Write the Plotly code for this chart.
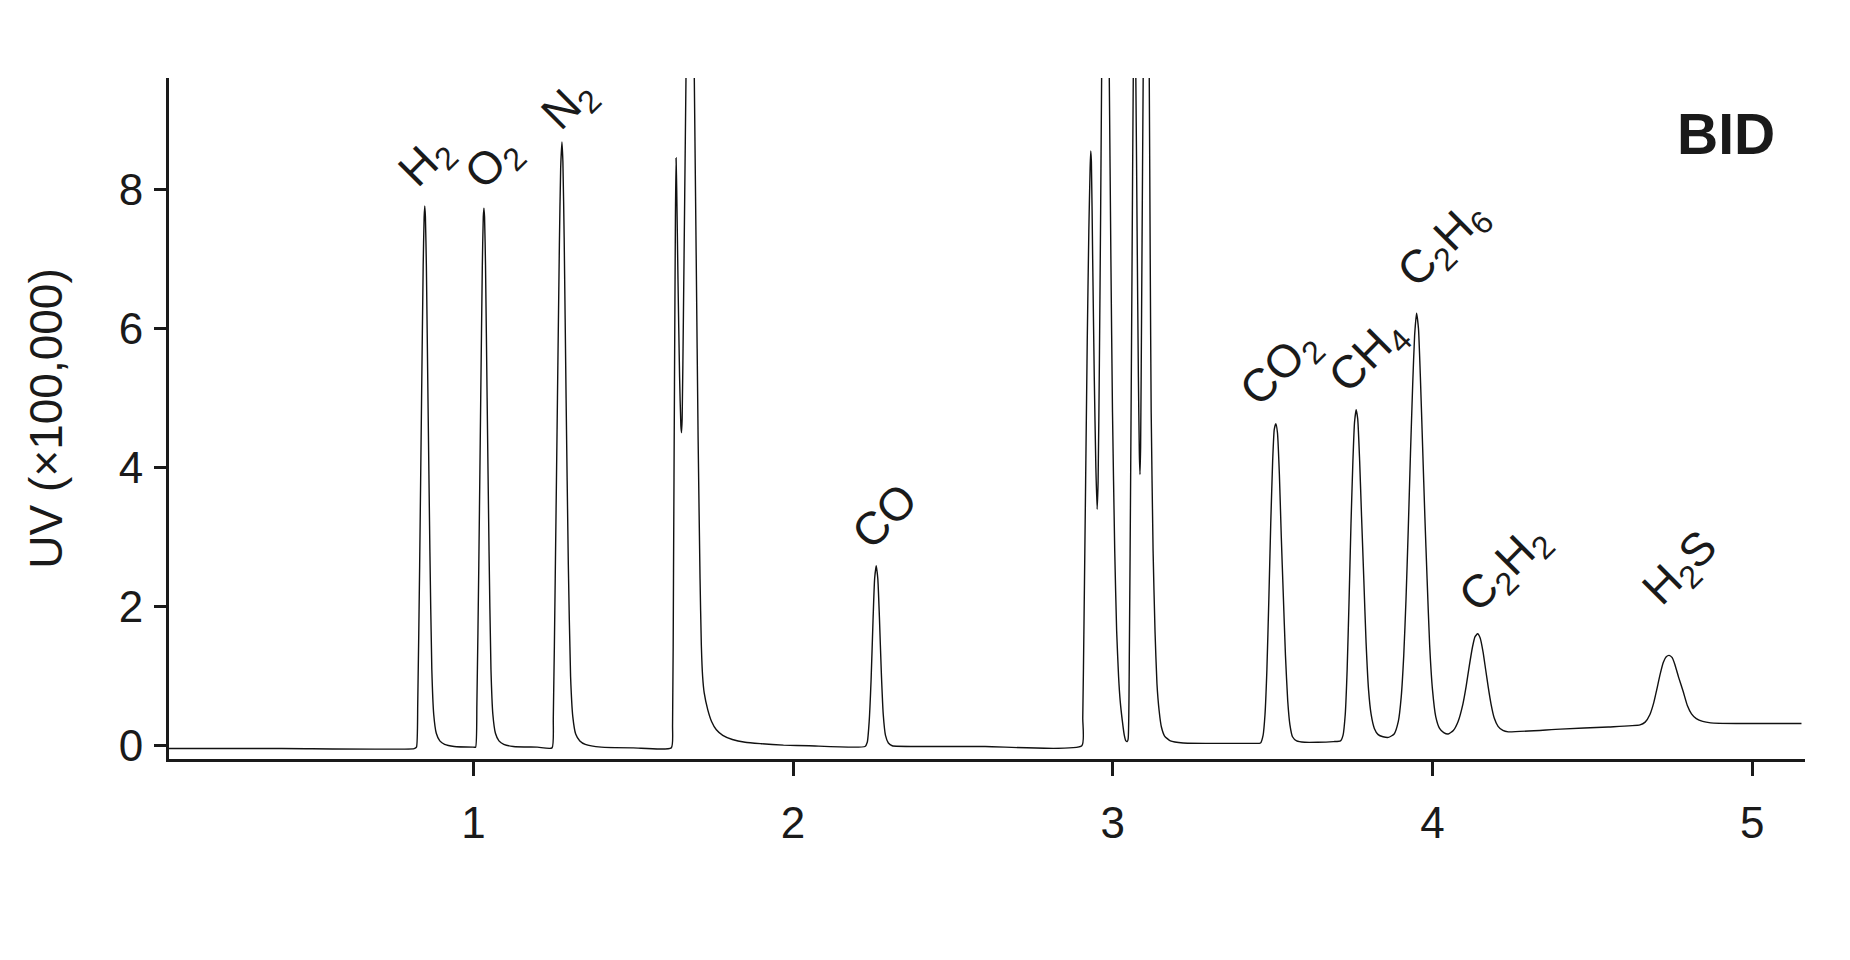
import plotly.graph_objects as go

# ---- chromatogram (time in min, response in x100,000 uV) ----
t_early = [0.048, 0.40, 0.815, 0.822, 0.826, 0.832, 0.838, 0.843, 0.846, 0.848, 0.850, 0.853, 0.858, 0.864, 0.870, 0.876, 0.884, 0.895, 0.910, 0.940, 1.000,
           1.007, 1.011, 1.017, 1.023, 1.028, 1.031, 1.033, 1.035, 1.038, 1.043, 1.049, 1.055, 1.061, 1.069, 1.080, 1.095, 1.125, 1.200, 1.246,
           1.250, 1.256, 1.263, 1.269, 1.273, 1.277, 1.280, 1.284, 1.290, 1.297, 1.304, 1.311, 1.320, 1.333, 1.350, 1.400, 1.500, 1.619]
v_early = [-0.04, -0.04, -0.04, -0.02, 0.6, 2.6, 5.0, 6.9, 7.6, 7.76, 7.6, 6.9, 5.0, 2.8, 1.1, 0.45, 0.18, 0.07, 0.02, -0.01, -0.02,
           -0.02, 0.6, 2.6, 5.0, 6.9, 7.6, 7.73, 7.6, 6.9, 5.0, 2.8, 1.1, 0.45, 0.18, 0.07, 0.02, -0.01, -0.02, -0.03,
           0.4, 2.4, 5.0, 7.2, 8.3, 8.68, 8.4, 7.3, 5.0, 2.6, 1.0, 0.42, 0.17, 0.07, 0.02, -0.02, -0.03, -0.03]

t_mid = [1.623, 1.626, 1.629, 1.632, 1.634, 1.636, 1.640, 1.645, 1.649, 1.651, 1.653, 1.657, 1.661, 1.665, 1.670, 1.678, 1.686, 1.691, 1.697, 1.703,
         1.709, 1.713, 1.717, 1.722, 1.733, 1.745, 1.760, 1.780, 1.810, 1.850, 1.900, 1.970, 2.050, 2.225,
         2.232, 2.238, 2.244, 2.250, 2.255, 2.260, 2.265, 2.270, 2.276, 2.282, 2.289, 2.298, 2.310, 2.400, 2.600, 2.903]
v_mid = [0.3, 2.5, 5.2, 7.6, 8.45, 8.0, 6.7, 5.3, 4.6, 4.5, 4.7, 6.2, 7.9, 9.6, 12.0, 13.5, 12.0, 9.6, 7.0, 4.4,
         2.4, 1.45, 1.0, 0.76, 0.52, 0.35, 0.23, 0.15, 0.09, 0.05, 0.03, 0.01, 0.0, -0.01,
         0.05, 0.35, 0.95, 1.8, 2.4, 2.59, 2.4, 1.85, 1.05, 0.45, 0.15, 0.04, 0.0, -0.01, -0.01, 0.0]

t_cluster = [2.906, 2.910, 2.915, 2.920, 2.925, 2.929, 2.931, 2.933, 2.937, 2.942, 2.947, 2.951, 2.954, 2.958, 2.962, 2.965, 2.970, 2.977, 2.984, 2.989,
             2.994, 2.999, 3.006, 3.012, 3.018, 3.023, 3.030, 3.036, 3.041, 3.045,
             3.048, 3.052, 3.056, 3.060, 3.064, 3.068, 3.072, 3.076, 3.080, 3.083, 3.085, 3.087, 3.090, 3.093, 3.095, 3.100, 3.105, 3.110, 3.114, 3.117,
             3.120, 3.126, 3.132, 3.138, 3.145, 3.152, 3.162, 3.180, 3.220, 3.300, 3.440]
v_cluster = [0.4, 1.8, 3.8, 5.8, 7.4, 8.3, 8.55, 8.4, 7.0, 5.3, 4.0, 3.4, 3.8, 5.5, 7.7, 9.6, 12.0, 14.0, 12.0, 9.6,
             7.0, 4.8, 2.8, 1.65, 1.0, 0.65, 0.35, 0.15, 0.07, 0.06,
             0.1, 1.5, 4.0, 6.8, 9.6, 10.8, 9.6, 7.4, 5.3, 4.2, 3.9, 4.3, 6.2, 8.3, 9.6, 12.0, 13.0, 12.0, 9.6, 7.0,
             4.8, 2.8, 1.65, 0.9, 0.5, 0.27, 0.14, 0.07, 0.04, 0.035, 0.035]

t_hydro = [3.462, 3.470, 3.476, 3.482, 3.488, 3.494, 3.500, 3.505, 3.510, 3.515, 3.521, 3.527, 3.533, 3.540, 3.547, 3.554, 3.562, 3.575, 3.600, 3.640, 3.690,
           3.712, 3.720, 3.727, 3.733, 3.739, 3.745, 3.751, 3.756, 3.761, 3.766, 3.772, 3.778, 3.785, 3.792, 3.800, 3.808, 3.818, 3.830, 3.845, 3.862,
           3.880, 3.893, 3.902, 3.910, 3.917, 3.924, 3.931, 3.938, 3.944, 3.950, 3.956, 3.962, 3.969, 3.976, 3.983, 3.991, 4.000, 4.010, 4.022, 4.035, 4.049]
v_hydro = [0.04, 0.15, 0.45, 1.1, 2.1, 3.2, 4.1, 4.55, 4.63, 4.5, 3.9, 3.0, 2.2, 1.3, 0.65, 0.3, 0.13, 0.07, 0.05, 0.05, 0.06,
           0.07, 0.15, 0.45, 1.1, 2.1, 3.2, 4.1, 4.65, 4.83, 4.7, 4.1, 3.3, 2.4, 1.5, 0.8, 0.45, 0.25, 0.16, 0.13, 0.12,
           0.17, 0.35, 0.7, 1.3, 2.1, 3.1, 4.2, 5.2, 5.9, 6.22, 6.0, 5.3, 4.3, 3.3, 2.4, 1.45, 0.8, 0.42, 0.25, 0.19, 0.17]

t_late = [4.065, 4.080, 4.095, 4.105, 4.115, 4.125, 4.133, 4.141, 4.149, 4.158, 4.166, 4.174, 4.183, 4.193, 4.205, 4.220, 4.237, 4.400, 4.550, 4.649,
          4.665, 4.680, 4.692, 4.701, 4.712, 4.722, 4.731, 4.740, 4.749, 4.758, 4.770, 4.784, 4.797, 4.810, 4.825, 4.845, 4.870, 4.950, 5.154]
v_late = [0.22, 0.35, 0.6, 0.85, 1.15, 1.42, 1.57, 1.61, 1.55, 1.35, 1.1, 0.85, 0.6, 0.4, 0.28, 0.22, 0.20, 0.24, 0.27, 0.30,
          0.34, 0.45, 0.62, 0.8, 1.03, 1.2, 1.28, 1.30, 1.27, 1.17, 0.98, 0.78, 0.58, 0.46, 0.39, 0.35, 0.33, 0.32, 0.32]

# ---- peak labels ----
peak_names = ["H<sub>2</sub>", "O<sub>2</sub>", "N<sub>2</sub>", "CO", "CO<sub>2</sub>", "CH<sub>4</sub>",
              "C<sub>2</sub>H<sub>6</sub>", "C<sub>2</sub>H<sub>2</sub>", "H<sub>2</sub>S"]
label_t = [0.852, 1.065, 1.30, 2.285, 3.526, 3.801, 4.036, 4.226, 4.780]
label_v = [8.39, 8.37, 9.21, 3.30, 5.43, 5.59, 7.20, 2.54, 2.53]

x_ticks = [1, 2, 3, 4, 5]
y_ticks = [0, 2, 4, 6, 8]

segments = [(t_early, v_early), (t_mid, v_mid), (t_cluster, v_cluster), (t_hydro, v_hydro), (t_late, v_late)]
time_all, resp_all = [], []
for ts, vs in segments:
    assert len(ts) == len(vs), (len(ts), len(vs))
    time_all += ts
    resp_all += vs

FONT = "Liberation Sans, Arial, sans-serif"

fig = go.Figure()
fig.add_trace(go.Scatter(x=time_all, y=resp_all, mode="lines",
                         line=dict(color="#111111", width=1.4, shape="spline", smoothing=0.5),
                         hoverinfo="x+y", showlegend=False))

for name, tx, vy in zip(peak_names, label_t, label_v):
    fig.add_annotation(x=tx, y=vy, text=name, showarrow=False, textangle=-45,
                       xanchor="center", yanchor="middle",
                       font=dict(family=FONT, size=46, color="#1a1a1a"))

fig.add_annotation(x=4.918, y=8.80, text="<b>BID</b>", showarrow=False,
                   xanchor="center", yanchor="middle",
                   font=dict(family=FONT, size=57, color="#1a1a1a"))

# page body adds an 8px margin, so the figure is laid out 8px inside the window
fig.update_layout(
    width=1834, height=944,
    margin=dict(l=161, r=37, t=70, b=193),
    paper_bgcolor="white", plot_bgcolor="white",
    font=dict(family=FONT, color="#1a1a1a"),
    xaxis=dict(range=[0.048, 5.165], tickvals=x_ticks, ticks="outside", ticklen=14, tickwidth=2.5,
               tickcolor="#1a1a1a", showline=True, linecolor="#1a1a1a", linewidth=3,
               showgrid=False, zeroline=False, tickfont=dict(size=44), ticklabelstandoff=9),
    yaxis=dict(range=[-0.19, 9.6], tickvals=y_ticks, ticks="outside", ticklen=12, tickwidth=3,
               tickcolor="#1a1a1a", showline=True, linecolor="#1a1a1a", linewidth=3,
               showgrid=False, zeroline=False, tickfont=dict(size=44), ticklabelstandoff=2,
               title=dict(text="UV (×100,000)", font=dict(size=46), standoff=42)),
)

fig.write_html("out.html")
